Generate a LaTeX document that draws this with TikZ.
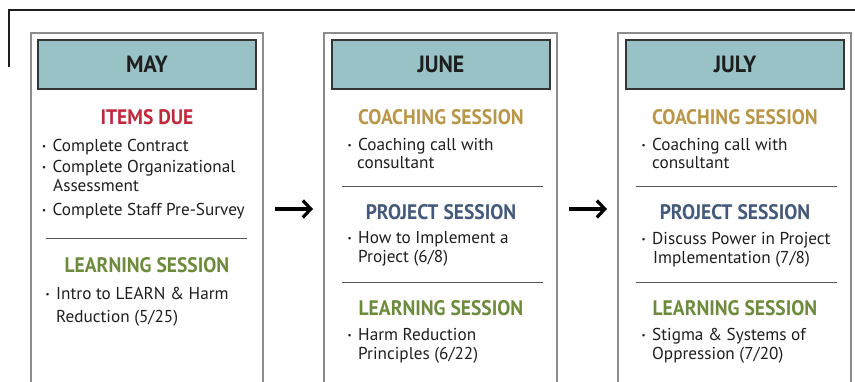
\documentclass[tikz,border=0pt]{standalone}
\usepackage{fontspec}
\setmainfont{PT Sans}
\newfontfamily\condbold[FakeStretch=0.93]{PT Sans Bold}
\usetikzlibrary{arrows.meta}
\definecolor{hdrfill}{HTML}{99C2C6}
\definecolor{duered}{HTML}{C0283C}
\definecolor{coachgold}{HTML}{B8974A}
\definecolor{projblue}{HTML}{45597A}
\definecolor{learngreen}{HTML}{6E8B3D}
\definecolor{boxgray}{HTML}{8C8C8C}
\definecolor{txt}{HTML}{1E1E1E}
\tikzset{
  colbox/.style={draw=boxgray, line width=1.3pt},
  hdr/.style={draw=txt!90, fill=hdrfill, line width=2pt, minimum width=218pt, minimum height=49pt, inner sep=0pt,
    font=\condbold\fontsize{23.5}{23.5}\selectfont, text=txt},
  sechead/.style={font=\condbold\fontsize{21}{21}\selectfont, inner sep=0pt},
  bodyline/.style={anchor=mid west, inner sep=0pt, font=\fontsize{17.2}{17.2}\selectfont, text=txt},
  sepline/.style={draw=txt!75, line width=1pt},
  frame/.style={draw=txt, line width=2pt},
  flowarrow/.style={draw=black, line width=3.8pt, -{Straight Barb[length=8pt,width=17pt,line width=3.2pt]}}
}
\newcommand{\bul}{\makebox[10.5pt][l]{\raisebox{1.8pt}{\fontsize{9}{9}\selectfont\textbullet}}}
\begin{document}
\begin{tikzpicture}[x=1pt,y=-1pt]
\useasboundingbox (0,0) rectangle (855,381);
% outer frame
\coordinate (fa) at (9,67);
\coordinate (fb) at (9,10);
\coordinate (fc) at (856,10);
\draw[frame] (fa) -- (fb) -- (fc);

% column boxes
\draw[colbox] (31,382) -- (31,33) -- (263,33) -- (263,382);
\draw[colbox] (324,382) -- (324,33) -- (557,33) -- (557,382);
\draw[colbox] (618,382) -- (618,33) -- (851,33) -- (851,382);

% headers
\node[hdr] (may) at (147,64.5) {MAY};
\node[hdr] (june) at (441,64.5) {JUNE};
\node[hdr] (july) at (735,64.5) {JULY};

% MAY column
\node[sechead, text=duered] (m-due) at (147,117.5) {ITEMS DUE};
\node[bodyline] (m1) at (42,149) {\bul Complete Contract};
\node[bodyline] (m2) at (42,170) {\bul Complete Organizational};
\node[bodyline] (m2b) at (53,189) {Assessment};
\node[bodyline] (m3) at (42,213) {\bul Complete Staff Pre-Survey};
\coordinate (ms1a) at (46,238);
\coordinate (ms1b) at (247,238);
\draw[sepline] (ms1a) -- (ms1b);
\node[sechead, text=learngreen] (m-learn) at (147,265.5) {LEARNING SESSION};
\node[bodyline] (m4) at (45.5,297) {\bul Intro to LEARN \& Harm};
\node[bodyline] (m4b) at (56,320) {Reduction (5/25)};

% JUNE column
\node[sechead, text=coachgold] (j-coach) at (441,117.5) {COACHING SESSION};
\node[bodyline] (j1) at (347.5,148) {\bul Coaching call with};
\node[bodyline] (j1b) at (357,166) {consultant};
\coordinate (js1a) at (342,186);
\coordinate (js1b) at (543,186);
\draw[sepline] (js1a) -- (js1b);
\node[sechead, text=projblue] (j-proj) at (441,212.5) {PROJECT SESSION};
\node[bodyline] (j2) at (347.5,241) {\bul How to Implement a};
\node[bodyline] (j2b) at (358,260) {Project (6/8)};
\coordinate (js2a) at (342,282);
\coordinate (js2b) at (543,282);
\draw[sepline] (js2a) -- (js2b);
\node[sechead, text=learngreen] (j-learn) at (441,308.5) {LEARNING SESSION};
\node[bodyline] (j3) at (347.5,338) {\bul Harm Reduction};
\node[bodyline] (j3b) at (358,357) {Principles (6/22)};

% JULY column
\node[sechead, text=coachgold] (l-coach) at (735,117.5) {COACHING SESSION};
\node[bodyline] (l1) at (641.5,148) {\bul Coaching call with};
\node[bodyline] (l1b) at (652,166) {consultant};
\coordinate (ls1a) at (636,186);
\coordinate (ls1b) at (837,186);
\draw[sepline] (ls1a) -- (ls1b);
\node[sechead, text=projblue] (l-proj) at (735,212.5) {PROJECT SESSION};
\node[bodyline] (l2) at (641.5,242) {\bul Discuss Power in Project};
\node[bodyline] (l2b) at (653,261) {Implementation (7/8)};
\coordinate (ls2a) at (636,282);
\coordinate (ls2b) at (837,282);
\draw[sepline] (ls2a) -- (ls2b);
\node[sechead, text=learngreen] (l-learn) at (735,308.5) {LEARNING SESSION};
\node[bodyline] (l3) at (641.5,338) {\bul Stigma \& Systems of};
\node[bodyline] (l3b) at (652,357) {Oppression (7/20)};

% arrows
\coordinate (a1s) at (275,209);
\coordinate (a1e) at (313,209);
\coordinate (a2s) at (569,209);
\coordinate (a2e) at (607,209);
\draw[flowarrow] (a1s) -- (a1e);
\draw[flowarrow] (a2s) -- (a2e);
\end{tikzpicture}
\end{document}
